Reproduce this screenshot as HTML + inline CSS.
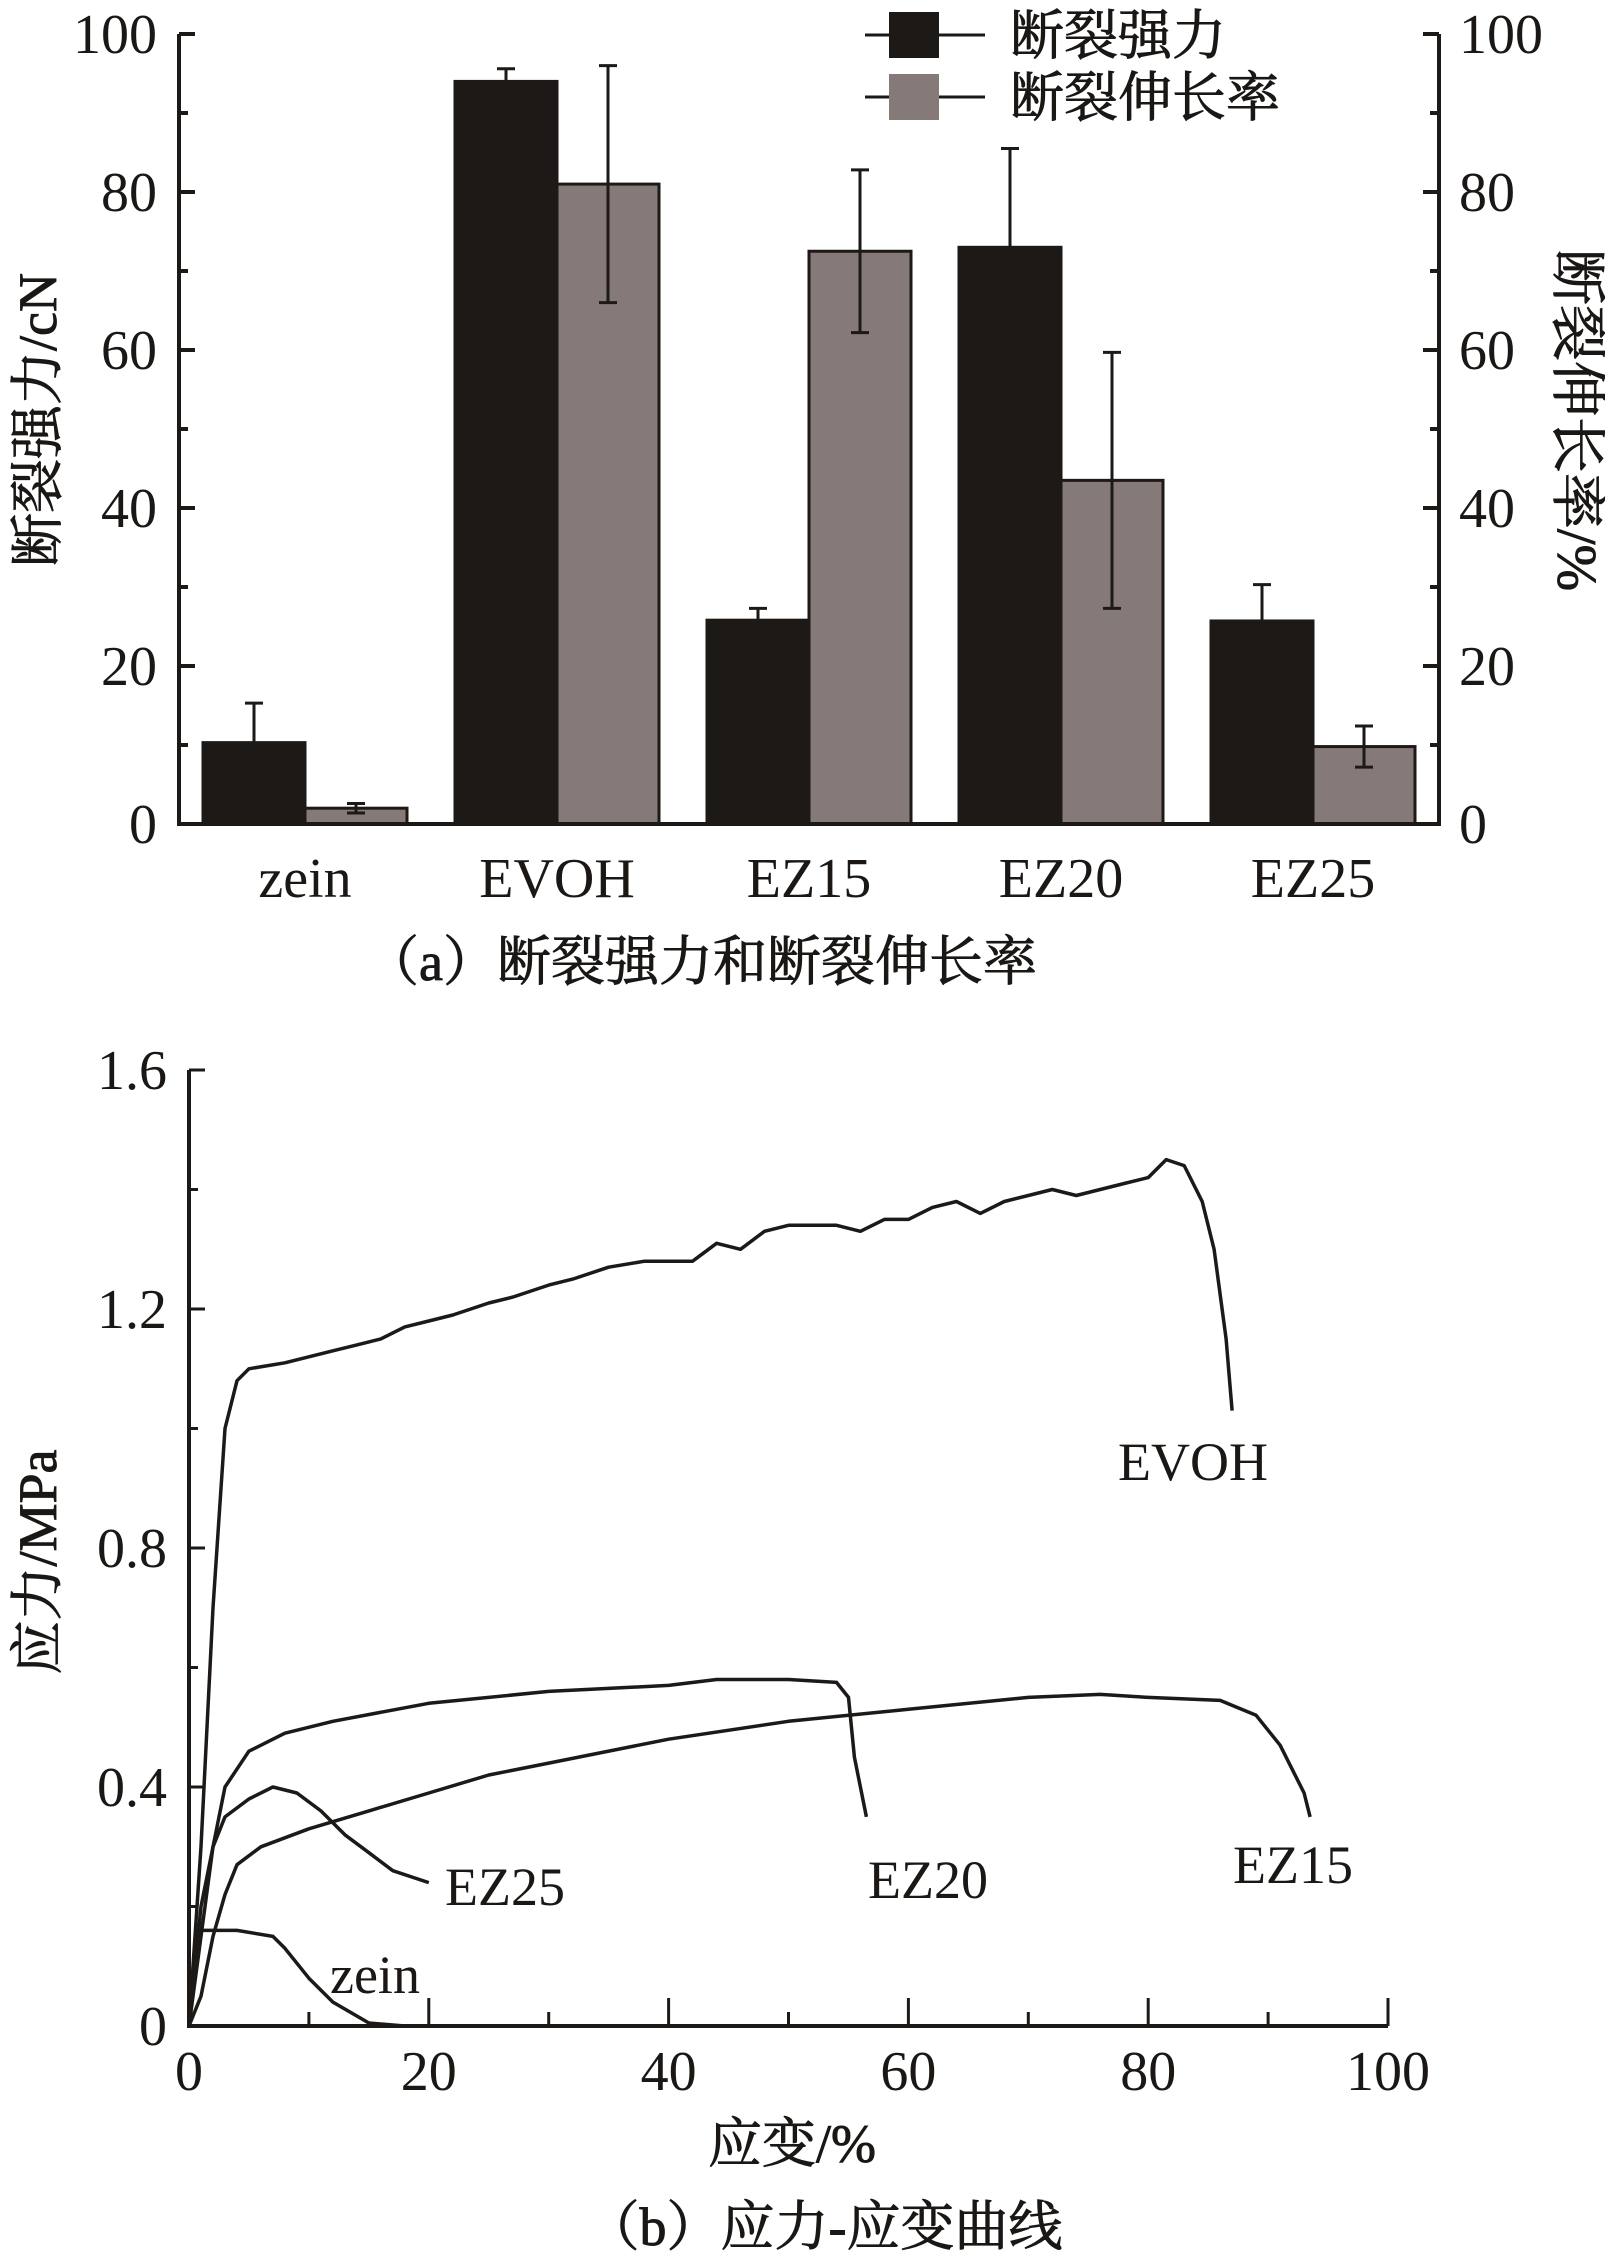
<!DOCTYPE html>
<html><head><meta charset="utf-8">
<style>
html,body{margin:0;padding:0;background:#fff;}
svg{display:block;}
text{font-family:"Liberation Serif","Noto Serif CJK SC",serif;fill:#1a1714;}
.cjk{font-family:"Liberation Serif","Noto Serif CJK SC",serif;stroke:#1a1714;stroke-width:0.9px;}
</style></head>
<body>
<svg id="fig" width="1605" height="2262" viewBox="0 0 1605 2262" xmlns="http://www.w3.org/2000/svg">
<g id="chartA"></g>
<g id="chartB"></g>
</svg>
<script>
const categories=["zein","EVOH","EZ15","EZ20","EZ25"];
const strength=[10.3,94,25.8,73,25.7];
const strengthErr=[5.0,1.6,1.5,12.5,4.6];
const elong=[2.0,81,72.5,43.5,9.8];
const elongErr=[0.6,15,10.3,16.2,2.6];
const yTicksA=[0,20,40,60,80,100];

const strainEVOH=[0,1,2,3,4,5,8,10,12,14,16,18,20,22,25,27,30,32,35,38,40,42,44,46,48,50,52,54,56,58,60,62,64,66,68,70,72,74,76,78,80,81.5,83,84.5,85.5,86.5,87];
const stressEVOH=[0,0.3,0.7,1.0,1.08,1.1,1.11,1.12,1.13,1.14,1.15,1.17,1.18,1.19,1.21,1.22,1.24,1.25,1.27,1.28,1.28,1.28,1.31,1.30,1.33,1.34,1.34,1.34,1.33,1.35,1.35,1.37,1.38,1.36,1.38,1.39,1.40,1.39,1.40,1.41,1.42,1.45,1.44,1.38,1.3,1.15,1.03];
const strainEZ20=[0,1,2,3,5,8,12,20,30,40,44,50,54,55,55.5,56.5];
const stressEZ20=[0,0.15,0.3,0.4,0.46,0.49,0.51,0.54,0.56,0.57,0.58,0.58,0.575,0.55,0.45,0.35];
const strainEZ15=[0,1,2,3,4,6,10,15,20,25,30,40,50,60,70,76,80,86,89,91,93,93.5];
const stressEZ15=[0,0.05,0.15,0.22,0.27,0.30,0.33,0.36,0.39,0.42,0.44,0.48,0.51,0.53,0.55,0.555,0.55,0.545,0.52,0.47,0.39,0.35];
const strainEZ25=[0,1,2,3,5,7,9,11,13,15,17,20];
const stressEZ25=[0,0.2,0.3,0.35,0.38,0.40,0.39,0.36,0.32,0.29,0.26,0.24];
const strainZein=[0,0.5,1,4,7,8,10,12,15,18,40];
const stressZein=[0,0.1,0.16,0.16,0.15,0.13,0.08,0.04,0.005,0,0];
const xTicksB=[0,20,40,60,80,100];
const yTicksB=[0,0.4,0.8,1.2,1.6];

const NS="http://www.w3.org/2000/svg";
function mk(parent,tag,attrs,txt){const e=document.createElementNS(NS,tag);for(const k in attrs)e.setAttribute(k,attrs[k]);if(txt!==undefined)e.textContent=txt;parent.appendChild(e);return e;}

/* ---------- Chart A ---------- */
const A=document.getElementById('chartA');
const aL=179,aR=1439,aT=34,aB=824;
const bandW=(aR-aL)/categories.length;
const yA=v=>aB-(v/100)*(aB-aT);
const barW=102;
const black="#1d1916",gray="#857a77";
categories.forEach((c,i)=>{
  const cx=aL+bandW*(i+0.5);
  let r=mk(A,'rect',{x:cx-barW,y:yA(strength[i]),width:barW,height:aB-yA(strength[i]),fill:black,stroke:black,'stroke-width':3});
  
  
  r=mk(A,'rect',{x:cx,y:yA(elong[i]),width:barW,height:aB-yA(elong[i]),fill:gray,stroke:black,'stroke-width':3});
  
  
  [[cx-barW/2,strength[i],strengthErr[i]],[cx+barW/2,elong[i],elongErr[i]]].forEach((d,j)=>{
    const g=mk(A,'g',{stroke:black,'stroke-width':3});
    
    
    const t=yA(d[1]+d[2]),b=yA(Math.max(0,d[1]-d[2]));
    mk(g,'line',{x1:d[0],x2:d[0],y1:t,y2:b});
    mk(g,'line',{x1:d[0]-9,x2:d[0]+9,y1:t,y2:t});
    mk(g,'line',{x1:d[0]-9,x2:d[0]+9,y1:b,y2:b});
  });
  const t=mk(A,'text',{x:cx,y:897,'text-anchor':'middle','font-size':56},c);
  
  
});
let ax=mk(A,'path',{d:`M${aL},${aT} V${aB} H${aR} V${aT}`,fill:'none',stroke:black,'stroke-width':4});


for(let v=0;v<=100;v+=10){
  const y=yA(v),len=(v%20==0)?16:9;
  mk(A,'line',{x1:aL,x2:aL+len,y1:y,y2:y,stroke:black,'stroke-width':4});
  mk(A,'line',{x1:aR,x2:aR-len,y1:y,y2:y,stroke:black,'stroke-width':4});
}
yTicksA.forEach(v=>{
  let t=mk(A,'text',{x:157,y:yA(v)+19,'text-anchor':'end','font-size':56},String(v));
  
  
  t=mk(A,'text',{x:1459,y:yA(v)+19,'text-anchor':'start','font-size':56},String(v));
  
  
});
let yl=mk(A,'text',{x:0,y:0,transform:'translate(56,420) rotate(-90)','text-anchor':'middle','font-size':54,class:'cjk'},'断裂强力/cN');


yl=mk(A,'text',{x:0,y:0,transform:'translate(1558,420) rotate(90)','text-anchor':'middle','font-size':56,class:'cjk'},'断裂伸长率/%');


[[35,black,'断裂强力'],[97,gray,'断裂伸长率']].forEach((d,i)=>{
  const g=mk(A,'g',{});
  
  
  mk(g,'line',{x1:865,x2:985,y1:d[0],y2:d[0],stroke:black,'stroke-width':3});
  mk(g,'rect',{x:889,y:d[0]-23,width:50,height:46,fill:d[1]});
  mk(g,'text',{x:1010,y:d[0]+19,'font-size':54,class:'cjk'},d[2]);
});
let cap=mk(A,'text',{x:701,y:980,'text-anchor':'middle','font-size':54,class:'cjk'},'（a）断裂强力和断裂伸长率');



/* ---------- Chart B ---------- */
const B=document.getElementById('chartB');
const bL=189,bR=1388,bT=1070,bB=2026;
const xB=v=>bL+(v/100)*(bR-bL);
const yB=v=>bB-(v/1.6)*(bB-bT);
ax=mk(B,'path',{d:`M${bL},${bT} V${bB} H${bR}`,fill:'none',stroke:black,'stroke-width':4});


for(let v=0;v<=100;v+=10){const len=(v%20==0)?28:14;mk(B,'line',{x1:xB(v),x2:xB(v),y1:bB,y2:bB-len,stroke:black,'stroke-width':3});}
for(let v=0;v<=16;v+=2){const len=(v%4==0)?16:9;const y=yB(v/10);mk(B,'line',{x1:bL,x2:bL+len,y1:y,y2:y,stroke:black,'stroke-width':3});}
xTicksB.forEach(v=>{const t=mk(B,'text',{x:xB(v),y:2090,'text-anchor':'middle','font-size':56},String(v));
  
  });
yTicksB.forEach(v=>{const t=mk(B,'text',{x:167,y:yB(v)+19,'text-anchor':'end','font-size':56},v===0?'0':v.toFixed(1));
  
  });
const series=[["EVOH",strainEVOH,stressEVOH],["EZ20",strainEZ20,stressEZ20],["EZ15",strainEZ15,stressEZ15],["EZ25",strainEZ25,stressEZ25],["zein",strainZein,stressZein]];
series.forEach(s=>{
  const d=s[1].map((x,i)=>(i?'L':'M')+xB(x).toFixed(1)+','+yB(s[2][i]).toFixed(1)).join(' ');
  const p=mk(B,'path',{d:d,fill:'none',stroke:'#1d1916','stroke-width':3.5,'stroke-linejoin':'round'});
  
  
});
[["EVOH",1118,1480],["EZ25",445,1905],["EZ20",868,1898],["EZ15",1233,1883],["zein",330,1993]].forEach(l=>{
  const t=mk(B,'text',{x:l[1],y:l[2],'font-size':54},l[0]);
  
  
});
let xt=mk(B,'text',{x:792,y:2162,'text-anchor':'middle','font-size':54,class:'cjk'},'应变/%');


xt=mk(B,'text',{x:0,y:0,transform:'translate(56,1562) rotate(-90)','text-anchor':'middle','font-size':54,class:'cjk'},'应力/MPa');


cap=mk(B,'text',{x:824,y:2245,'text-anchor':'middle','font-size':54,class:'cjk'},'（b）应力-应变曲线');


</script>
</body></html>
